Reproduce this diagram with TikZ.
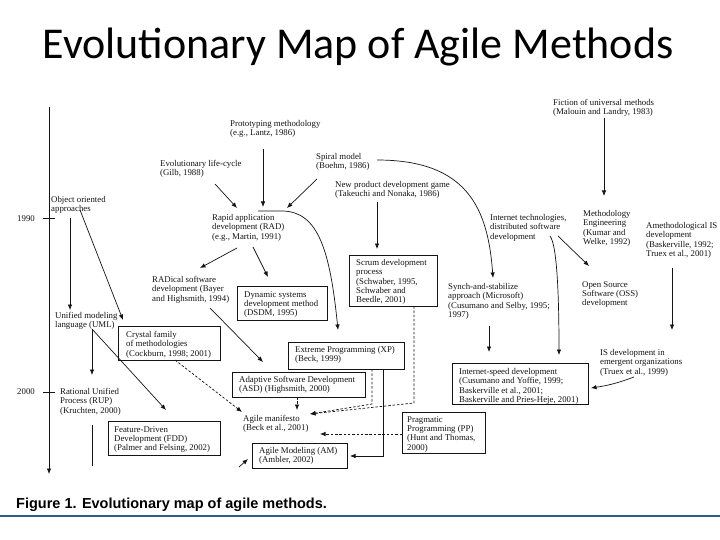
\documentclass[tikz,border=0pt]{standalone}
\usepackage{fontspec}
\usetikzlibrary{arrows.meta}
\newfontfamily\dfont{Liberation Serif}
\newfontfamily\tfont{Carlito}
\newfontfamily\cfont{Liberation Sans}
\definecolor{rulecol}{RGB}{45,95,140}
\definecolor{ink}{RGB}{20,20,20}
\begin{document}
\begin{tikzpicture}[x=1pt,y=-1pt,
  txt/.style={font=\dfont\fontsize{8.8}{9.4}\selectfont, align=left, inner sep=0pt, anchor=north west, text=ink},
  arr/.style={draw=ink, line width=0.7pt, -{Latex[length=5.5pt,width=4.5pt]}},
  plain/.style={draw=ink, line width=0.7pt},
  darr/.style={arr, dash pattern=on 2.5pt off 1.8pt},
  boxline/.style={draw=ink, line width=0.8pt}]
\useasboundingbox (0,0) rectangle (720,540);
\fill[white] (0,0) rectangle (720,540);

% title
\node[font=\tfont\fontsize{44}{48}\selectfont, anchor=base, inner sep=0pt] (title) at (358,59) {Evolutionary Map of Agile Methods};

% timeline
\coordinate (tltop) at (49,107);
\coordinate (tlbot) at (49,474);
\draw[arr] (tltop) -- (tlbot);
\coordinate (t1a) at (43,218); \coordinate (t1b) at (55,218);
\coordinate (t2a) at (43,392); \coordinate (t2b) at (55,392);
\draw[plain] (t1a) -- (t1b);
\draw[plain] (t2a) -- (t2b);
\node[txt] (y1990) at (17,215) {1990};
\node[txt] (y2000) at (17,388) {2000};

% free text nodes
\node[txt] (fiction) at (553,99) {Fiction of universal methods\\(Malouin and Landry, 1983)};
\node[txt] (proto) at (230,120) {Prototyping methodology\\(e.g., Lantz, 1986)};
\node[txt] (spiral) at (316,153) {Spiral model\\(Boehm, 1986)};
\node[txt] (evo) at (160,160) {Evolutionary life-cycle\\(Gilb, 1988)};
\node[txt] (npd) at (335,181) {New product development game\\(Takeuchi and Nonaka, 1986)};
\node[txt] (oo) at (51,196) {Object oriented\\approaches};
\node[txt] (rad) at (212,214) {Rapid application\\development (RAD)\\(e.g., Martin, 1991)};
\node[txt] (inet) at (490,214) {Internet technologies,\\distributed software\\development};
\node[txt] (meth) at (583,210) {Methodology\\Engineering\\(Kumar and\\Welke, 1992)};
\node[txt] (ameth) at (646,222) {Amethodological IS\\development\\(Baskerville, 1992;\\Truex et al., 2001)};
\node[txt] (radical) at (152,276) {RADical software\\development (Bayer\\and Highsmith, 1994)};
\node[txt] (synch) at (448,283) {Synch-and-stabilize\\approach (Microsoft)\\(Cusumano and Selby, 1995;\\1997)};
\node[txt] (oss) at (582,281) {Open Source\\Software (OSS)\\development};
\node[txt] (uml) at (55,312) {Unified modeling\\language (UML)};
\node[txt] (isemerg) at (600,349) {IS development in\\emergent organizations\\(Truex et al., 1999)};
\node[txt] (rup) at (60,388) {Rational Unified\\Process (RUP)\\(Kruchten, 2000)};
\node[txt] (manifesto) at (243,415) {Agile manifesto\\(Beck et al., 2001)};

% boxed nodes
\node[txt] (scrum) at (356,259) {Scrum development\\process\\(Schwaber, 1995,\\Schwaber and\\Beedle, 2001)};
\node[txt] (dsdm) at (244,291) {Dynamic systems\\development method\\(DSDM, 1995)};
\node[txt] (crystal) at (126,331) {Crystal family\\of methodologies\\(Cockburn, 1998; 2001)};
\node[txt] (xp) at (295,346) {Extreme Programming (XP)\\(Beck, 1999)};
\node[txt] (ispeed) at (459,368) {Internet-speed development\\(Cusumano and Yoffie, 1999;\\Baskerville et al., 2001;\\Baskerville and Pries-Heje, 2001)};
\node[txt] (asd) at (239,376) {Adaptive Software Development\\(ASD) (Highsmith, 2000)};
\node[txt] (pp) at (407,416) {Pragmatic\\Programming (PP)\\(Hunt and Thomas,\\2000)};
\node[txt] (fdd) at (114,426) {Feature-Driven\\Development (FDD)\\(Palmer and Felsing, 2002)};
\node[txt] (am) at (259,447) {Agile Modeling (AM)\\(Ambler, 2002)};

\draw[boxline] ([shift={(-7,-4)}]scrum.north west) rectangle ++(88,51);
\draw[boxline] ([shift={(-7,-5)}]dsdm.north west) rectangle ++(90,34);
\draw[boxline] ([shift={(-8,-5)}]crystal.north west) rectangle ++(102,34);
\draw[boxline] ([shift={(-7,-4)}]xp.north west) rectangle ++(116,27);
\draw[boxline] ([shift={(-7,-5)}]ispeed.north west) rectangle ++(136,41);
\draw[boxline] ([shift={(-7,-4)}]asd.north west) rectangle ++(133,25);
\draw[boxline] ([shift={(-5,-4)}]pp.north west) rectangle ++(83,41);
\draw[boxline] ([shift={(-6,-5)}]fdd.north west) rectangle ++(112,34);
\draw[boxline] ([shift={(-7,-4)}]am.north west) rectangle ++(95,25);

% connectors
\draw[arr] ([shift={(51,19)}]fiction.north west) -- ([shift={(21,-14)}]meth.north west);
\draw[arr] ([shift={(33,29)}]proto.north west) -- ([shift={(51,-7)}]rad.north west);
\draw[arr] ([shift={(55,24)}]evo.north west) -- ([shift={(25,-6)}]rad.north west);
\draw[arr] ([shift={(1,26)}]spiral.north west) -- ([shift={(75,-6)}]rad.north west);
\draw[arr] ([shift={(46,-3)}]rad.north west) -- ++(25,0) .. controls +(35,1) and +(-8,-80) .. ([shift={(43,-16)}]xp.north west);
\draw[arr] ([shift={(61,7)}]spiral.north west) .. controls +(90,0) and +(-5,-70) .. ([shift={(45,-5)}]synch.north west);
\draw[arr] ([shift={(42,21)}]npd.north west) -- ([shift={(21,-10)}]scrum.north west);
\draw[arr] ([shift={(68,22)}]inet.north west) -- ([shift={(7,-15)}]oss.north west);
\draw[arr] ([shift={(60,22)}]inet.north west) .. controls +(8,10) and +(0,-45) .. ([shift={(100,-13)}]ispeed.north west);
\draw[arr] ([shift={(26,46)}]ameth.north west) -- ([shift={(72,-19)}]isemerg.north west);
\draw[arr] ([shift={(34,28)}]isemerg.north west) to[bend left=6] ([shift={(132,20)}]ispeed.north west);
\draw[arr] ([shift={(41,43)}]synch.north west) -- ([shift={(30,-16)}]ispeed.north west);
\draw[arr] ([shift={(19,22)}]oo.north west) -- ([shift={(15,-2)}]uml.north west);
\draw[arr] ([shift={(29,14)}]oo.north west) -- ([shift={(-3,-11)}]crystal.north west);
\draw[arr] ([shift={(25,34)}]rad.north west) -- ([shift={(48,-8)}]radical.north west);
\draw[arr] ([shift={(41,33)}]rad.north west) -- ([shift={(24,-14)}]dsdm.north west);
\draw[arr] ([shift={(58,32)}]radical.north west) -- ([shift={(24,-14)}]asd.north west);
\draw[arr] ([shift={(37,17)}]uml.north west) -- ([shift={(32,-13)}]rup.north west);
\draw[arr] ([shift={(37,17)}]uml.north west) -- ([shift={(52,-16)}]fdd.north west);
\draw[plain] ([shift={(32,37)}]rup.north west) -- ++(0,41);
\draw[darr] ([shift={(49,29)}]crystal.north west) -- ([shift={(-1,-3)}]manifesto.north west);
\draw[darr] ([shift={(58,21)}]asd.north west) -- ([shift={(54,-5)}]manifesto.north west);
\draw[darr] ([shift={(77,23)}]xp.north west) -- ++(0,35) -- ([shift={(67,-1)}]manifesto.north west);
\draw[darr] ([shift={(58,47)}]scrum.north west) -- ++(0,97) -- ([shift={(67,-1)}]manifesto.north west);
\draw[darr] ([shift={(-5,18)}]pp.north west) -- ([shift={(77,19)}]manifesto.north west);
\draw[arr] ([shift={(88,23)}]xp.north west) -- ++(0,87) -- ([shift={(91,9)}]am.north west);
\draw[arr] ([shift={(125,41)}]fdd.north west) -- ([shift={(-11,12)}]am.north west);

% caption and rule
\node[font=\cfont\bfseries\fontsize{14.5}{16}\selectfont, anchor=base west, inner sep=0pt] (caption) at (16,508) {Figure 1. Evolutionary map of agile methods.};
\coordinate (rl) at (0,516); \coordinate (rr) at (720,516);
\draw[rulecol, line width=1.5pt] (rl) -- (rr);
\end{tikzpicture}
\end{document}
